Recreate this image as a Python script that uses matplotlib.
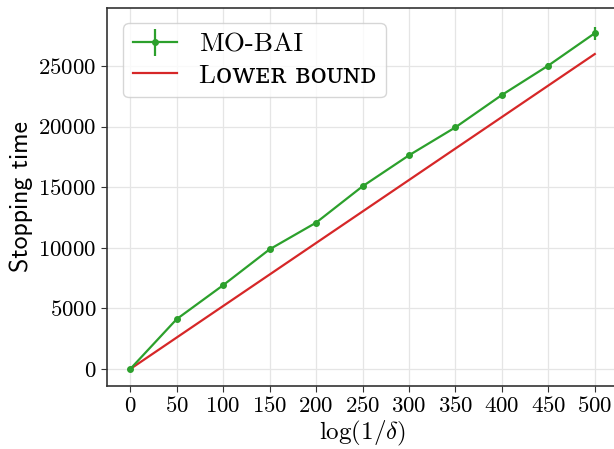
import matplotlib
matplotlib.use("Agg")
import matplotlib.pyplot as plt

x_vals = [0, 50, 100, 150, 200, 250, 300, 350, 400, 450, 500]
mobai = [0, 4120, 6920, 9880, 12080, 15080, 17640, 19950, 22620, 25050, 27720]
mobai_err = [80, 150, 150, 150, 150, 200, 150, 150, 200, 250, 550]
lower = [0, 2600, 5200, 7800, 10400, 13000, 15600, 18200, 20800, 23400, 26000]
xticks = [0, 50, 100, 150, 200, 250, 300, 350, 400, 450, 500]
yticks = [0, 5000, 10000, 15000, 20000, 25000]

plt.rcParams['font.family'] = ['cmr10', 'DejaVu Serif']
plt.rcParams['mathtext.fontset'] = 'cm'
plt.rcParams['axes.formatter.use_mathtext'] = True

fig = plt.figure(figsize=(6.14, 4.49), dpi=100)
ax = fig.add_axes([107/614, 1-386/449, (618-107)/614, (386-8)/449])

h1 = ax.errorbar(x_vals, mobai, yerr=mobai_err, color='#2ca02c', marker='o', markersize=4,
                 linewidth=1.6, elinewidth=1.6, label='MO-BAI', zorder=3)
h2, = ax.plot(x_vals, lower, color='#d62728', linewidth=1.6,
              label='L\u1d0f\u1d21\u1d07\u0280 \u0299\u1d0f\u1d1c\u0274\u1d05', zorder=2)

ax.set_xlim(-25, 525)
ax.set_ylim(-1400, 29800)
ax.set_xticks(xticks)
ax.set_yticks(yticks)
ax.tick_params(labelsize=16.5, color='#333333', length=4)
ax.grid(True, color='#e5e5e5', linewidth=0.9)
ax.set_axisbelow(True)
for s in ax.spines.values():
    s.set_color('#333333')
    s.set_linewidth(1.2)

ax.set_xlabel(r'$\log(1/\delta)$', fontsize=18, labelpad=2)
ax.set_ylabel('Stopping time', fontsize=18.5, family=['cmss10', 'DejaVu Sans'], labelpad=4)

leg = ax.legend([h1, h2], ['MO-BAI', 'L\u1d0f\u1d21\u1d07\u0280 \u0299\u1d0f\u1d1c\u0274\u1d05'],
                loc='upper left', fontsize=19.5, framealpha=0.8, edgecolor='#cccccc',
                handlelength=1.65, borderpad=0.35, labelspacing=0.25, handletextpad=0.8,
                bbox_to_anchor=(0.005, 0.995))

fig.savefig('out.png', dpi=100)
